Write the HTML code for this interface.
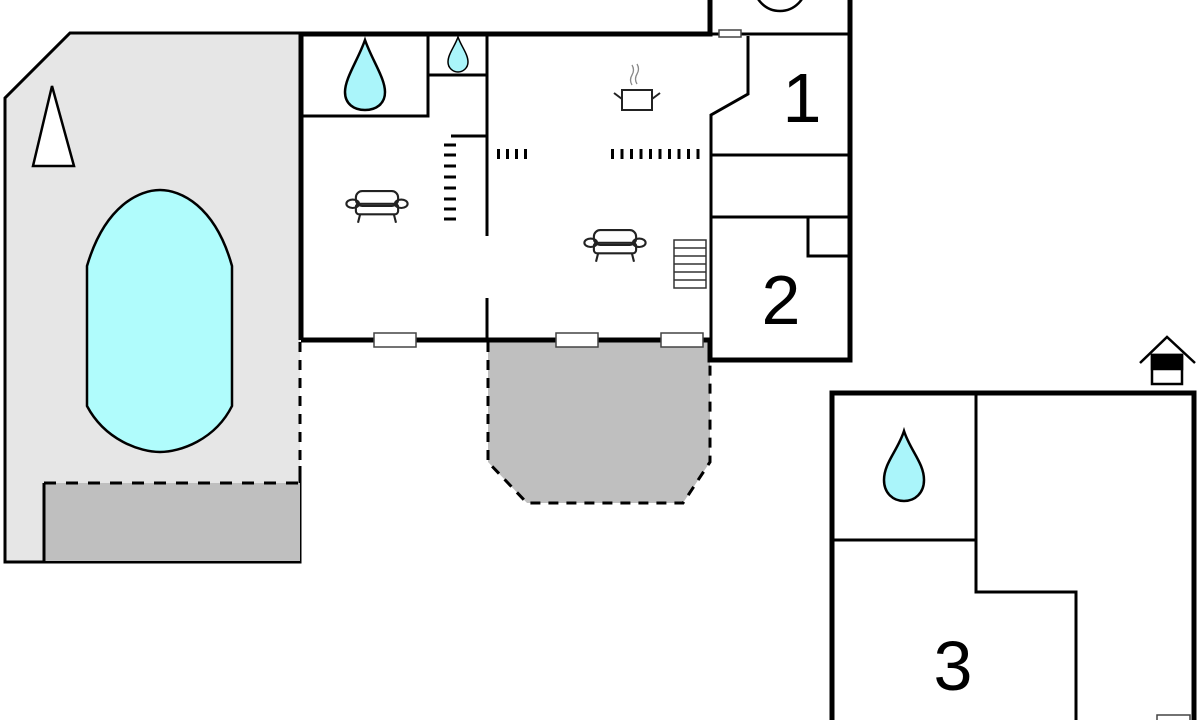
<!DOCTYPE html>
<html><head><style>html,body{margin:0;padding:0;background:#fff;width:1200px;height:720px;overflow:hidden}</style></head>
<body>
<svg width="1200" height="720" viewBox="0 0 1200 720" xmlns="http://www.w3.org/2000/svg" font-family="Liberation Sans, sans-serif">
<defs>
<symbol id="sofa" viewBox="0 0 60 36">
<g fill="none" stroke="#222" stroke-width="2">
<rect x="10" y="2" width="40" height="14" rx="6"/>
<ellipse cx="7" cy="14" rx="6" ry="4"/><ellipse cx="53" cy="14" rx="6" ry="4"/>
<rect x="10" y="14" width="40" height="10" rx="3"/>
<line x1="14" y1="24" x2="12" y2="32"/><line x1="46" y1="24" x2="48" y2="32"/>
</g></symbol>
</defs>
<path d="M70,33 L300,33 L300,562 L5,562 L5,98 Z" fill="#e6e6e6"/>
<path d="M300,33 L70,33 L5,98 L5,562 L300,562 L300,466" fill="none" stroke="#000" stroke-width="3"/>
<line x1="300" y1="342" x2="300" y2="466" stroke="#000" stroke-width="3" stroke-dasharray="10,8"/>
<rect x="44" y="483" width="256" height="78" fill="#bfbfbf"/>
<path d="M44,561 L44,483" stroke="#000" stroke-width="3"/>
<line x1="44" y1="483" x2="300" y2="483" stroke="#000" stroke-width="3" stroke-dasharray="12,10"/>
<polygon points="33,166 52,86 74,166" fill="#fff" stroke="#000" stroke-width="2.5"/>
<path d="M87,266 C105,205 140,190 160,190 C180,190 215,205 232,266 L232,406 C215,440 180,452 160,452 C140,452 105,440 87,406 Z" fill="#b0fcfc" stroke="#000" stroke-width="2.5"/>
<polygon points="488,340 710,340 710,462 683,503 527,503 488,462" fill="#bfbfbf"/>
<polyline points="488,342 488,462 527,503 683,503 710,462 710,342" fill="none" stroke="#000" stroke-width="3" stroke-dasharray="10,8"/>
<rect x="301" y="34" width="409" height="306" fill="#fff"/>
<rect x="710" y="0" width="140" height="360" fill="#fff"/>
<path d="M301,340 L301,34 L710,34 L710,0" fill="none" stroke="#000" stroke-width="5"/>
<path d="M850,0 L850,360 L710,360 L710,340 L301,340" fill="none" stroke="#000" stroke-width="5"/>
<circle cx="780" cy="-15" r="26" fill="none" stroke="#000" stroke-width="2.5"/>
<g stroke="#000" stroke-width="3" fill="none">
<line x1="710" y1="34" x2="850" y2="34"/>
<path d="M748,36 L748,94 L711,115 L711,340"/>
<line x1="711" y1="155" x2="850" y2="155"/>
<line x1="711" y1="217" x2="850" y2="217"/>
<path d="M808,217 L808,256 L850,256"/>
<path d="M301,116 L428,116 L428,34"/>
<path d="M428,75 L487,75"/>
<line x1="487" y1="34" x2="487" y2="236"/>
<line x1="487" y1="298" x2="487" y2="340"/>
<line x1="451" y1="136" x2="487" y2="136"/>
</g>
<line x1="442" y1="143" x2="457" y2="143" stroke="#000" stroke-width="0"/>
<g stroke="#000" stroke-width="3">
<line x1="444" y1="145" x2="456" y2="145"/><line x1="444" y1="155" x2="456" y2="155"/>
<line x1="444" y1="166" x2="456" y2="166"/><line x1="444" y1="177" x2="456" y2="177"/>
<line x1="444" y1="188" x2="456" y2="188"/><line x1="444" y1="199" x2="456" y2="199"/>
<line x1="444" y1="209" x2="456" y2="209"/><line x1="444" y1="219" x2="456" y2="219"/>
</g>
<line x1="497" y1="154" x2="532" y2="154" stroke="#000" stroke-width="10" stroke-dasharray="3,6"/>
<line x1="611" y1="154" x2="702" y2="154" stroke="#000" stroke-width="10" stroke-dasharray="3,6.5"/>
<g fill="#fff" stroke="#444" stroke-width="1.5">
<rect x="374" y="333" width="42" height="14"/>
<rect x="556" y="333" width="42" height="14"/>
<rect x="661" y="333" width="42" height="14"/>
<rect x="719" y="30" width="22" height="7"/>
</g>
<g fill="#fff" stroke="#333" stroke-width="1.5">
<rect x="674" y="240" width="32" height="48"/>
<line x1="674" y1="248" x2="706" y2="248"/><line x1="674" y1="256" x2="706" y2="256"/>
<line x1="674" y1="264" x2="706" y2="264"/><line x1="674" y1="272" x2="706" y2="272"/><line x1="674" y1="280" x2="706" y2="280"/>
</g>
<g fill="none" stroke="#222" stroke-width="2">
<rect x="622" y="90" width="30" height="20"/>
<line x1="614" y1="93" x2="622" y2="99"/><line x1="660" y1="93" x2="652" y2="99"/>
<path d="M632,65 q3,5 0,10 q-3,5 0,10" stroke="#888" stroke-width="1.3"/>
<path d="M637,64 q3,5 0,10 q-3,5 0,10" stroke="#888" stroke-width="1.3"/>
</g>
<use href="#sofa" x="345" y="189" width="64" height="38"/>
<use href="#sofa" x="583" y="228" width="64" height="38"/>
<text x="802" y="122" font-size="70" text-anchor="middle">1</text>
<text x="781" y="324" font-size="70" text-anchor="middle">2</text>
<rect x="832" y="393" width="362" height="340" fill="#fff" stroke="#000" stroke-width="5"/>
<g stroke="#000" stroke-width="3" fill="none">
<line x1="832" y1="540" x2="976" y2="540"/>
<path d="M976,393 L976,592 L1076,592 L1076,720"/>
</g>
<rect x="1157" y="715" width="33" height="10" fill="#fff" stroke="#444" stroke-width="1.5"/>
<text x="953" y="690" font-size="70" text-anchor="middle">3</text>
<g fill="#aaf5fa" stroke="#000" stroke-width="2.5">
<path d="M365,40 C358,60 345,78 345,92 C345,104 354,110 365,110 C376,110 385,104 385,92 C385,78 372,60 365,40 Z"/>
<path d="M458,37 C455,46 448,54 448,62 C448,68 453,72 458,72 C463,72 468,68 468,62 C468,54 461,46 458,37 Z" stroke-width="1.5"/>
<path d="M904,431 C898,450 884,463 884,480 C884,493 893,501 904,501 C915,501 924,493 924,480 C924,463 910,450 904,431 Z"/>
</g>
<g stroke="#000" stroke-width="2.5" fill="none">
<path d="M1140,363 L1167,337 L1195,363"/>
<rect x="1152" y="355" width="30" height="29" fill="#fff"/>
<rect x="1152" y="355" width="30" height="14" fill="#000"/>
</g>
</svg>
</body></html>
